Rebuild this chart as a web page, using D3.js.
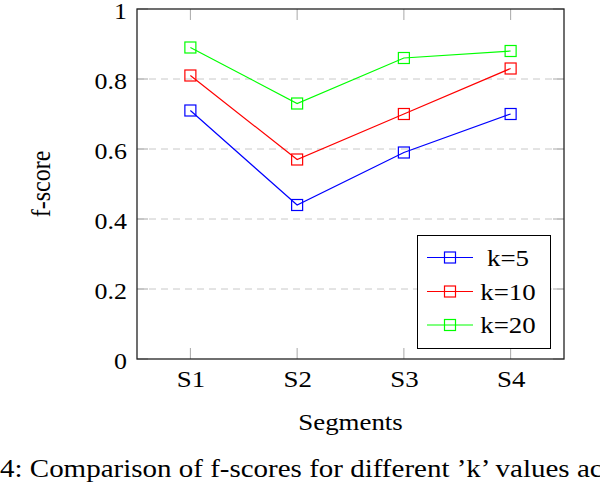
<!DOCTYPE html>
<html>
<head>
<meta charset="utf-8">
<script src="https://cdn.jsdelivr.net/npm/d3@7"></script>
</head>
<body style="margin:0;background:#fff">
<svg id="chart" width="600" height="490" style="display:block"></svg>
<script>
const categories = ["S1", "S2", "S3", "S4"];
const seriesNames = ["k=5", "k=10", "k=20"];
const seriesColors = ["#0000ff", "#ff0000", "#00ff00"];
const k5 = [0.71, 0.44, 0.59, 0.70];
const k10 = [0.81, 0.57, 0.70, 0.83];
const k20 = [0.89, 0.73, 0.86, 0.88];
const yTicks = [0, 0.2, 0.4, 0.6, 0.8, 1];
const yTickLabels = ["0", "0.2", "0.4", "0.6", "0.8", "1"];
const xLabel = "Segments";
const yLabel = "f-score";
const caption = "4: Comparison of f-scores for different \u2019k\u2019 values across";

const seriesValues = [k5, k10, k20];
const FONT = "Liberation Serif";
const SX = 1.12;

const svg = d3.select("#chart");
const L = 137, R = 564, T = 9, B = 359;
const fs = 24;

const x = d3.scalePoint().domain(categories).range([L, R]).padding(0.5);
const y = d3.scaleLinear().domain([0, 1]).range([B, T]);

function styleText(sel, size) {
  sel.attr("font-family", FONT).style("font-family", FONT)
     .attr("font-size", size || fs).attr("fill", "#000");
  return sel;
}

// grid
svg.append("g").selectAll("line")
  .data(yTicks.filter(d => d > 0 && d < 1))
  .join("line")
  .attr("x1", L).attr("x2", R)
  .attr("y1", d => y(d)).attr("y2", d => y(d))
  .attr("stroke", "#c8c8c8").attr("stroke-width", 1)
  .attr("stroke-dasharray", "7,5");

// inner ticks (left/right/bottom/top)
const tickColor = "#a8a8a8", tl = 11;
const ticksG = svg.append("g").attr("stroke", tickColor).attr("stroke-width", 1);
yTicks.forEach(v => {
  ticksG.append("line").attr("x1", L).attr("x2", L + tl).attr("y1", y(v)).attr("y2", y(v));
  ticksG.append("line").attr("x1", R).attr("x2", R - tl).attr("y1", y(v)).attr("y2", y(v));
});
categories.forEach(c => {
  ticksG.append("line").attr("x1", x(c)).attr("x2", x(c)).attr("y1", B).attr("y2", B - tl);
  ticksG.append("line").attr("x1", x(c)).attr("x2", x(c)).attr("y1", T).attr("y2", T + tl);
});

// y axis labels
const yAxis = d3.axisLeft(y).tickValues(yTicks).tickFormat((d, i) => yTickLabels[i]).tickSize(0).tickPadding(10);
const gy = svg.append("g").attr("transform", `translate(${L},0)`).call(yAxis)
  .attr("font-family", FONT).attr("font-size", fs);
gy.select(".domain").remove();
styleText(gy.selectAll("text")).attr("x", 0).attr("dy", "0.34em")
  .attr("text-anchor", "end").attr("transform", `translate(-10,1) scale(1.08,1)`);

// x axis labels
const xAxis = d3.axisBottom(x).tickSize(0).tickPadding(10);
const gx = svg.append("g").attr("transform", `translate(0,${B})`).call(xAxis)
  .attr("font-family", FONT).attr("font-size", fs);
gx.select(".domain").remove();
styleText(gx.selectAll("text")).attr("y", 0).attr("dy", "0")
  .attr("text-anchor", "middle").attr("transform", `translate(0,28) scale(${SX},1)`);

// frame
svg.append("rect").attr("x", L).attr("y", T).attr("width", R - L).attr("height", B - T)
  .attr("fill", "none").attr("stroke", "#222").attr("stroke-width", 1.3);

// series
const line = d3.line().x((d, i) => x(categories[i])).y(d => y(d));
const ms = 11;
seriesValues.forEach((vals, si) => {
  const g = svg.append("g");
  g.append("path").datum(vals).attr("d", line)
    .attr("fill", "none").attr("stroke", seriesColors[si]).attr("stroke-width", 1.2);
  g.selectAll("rect").data(vals).join("rect")
    .attr("x", (d, i) => x(categories[i]) - ms / 2)
    .attr("y", d => y(d) - ms / 2)
    .attr("width", ms).attr("height", ms)
    .attr("fill", "none").attr("stroke", seriesColors[si]).attr("stroke-width", 1.2);
});

// legend
const lg = svg.append("g");
lg.append("rect").attr("x", 417.5).attr("y", 235.5).attr("width", 133).attr("height", 113)
  .attr("fill", "#fff").attr("stroke", "#000").attr("stroke-width", 1);
const legY = [257.5, 291.5, 325];
seriesNames.forEach((n, i) => {
  lg.append("line").attr("x1", 427).attr("x2", 473).attr("y1", legY[i]).attr("y2", legY[i])
    .attr("stroke", seriesColors[i]).attr("stroke-width", 1.2);
  lg.append("rect").attr("x", 450 - ms / 2).attr("y", legY[i] - ms / 2).attr("width", ms).attr("height", ms)
    .attr("fill", "none").attr("stroke", seriesColors[i]).attr("stroke-width", 1.2);
  styleText(lg.append("text")).attr("x", 0).attr("y", 0).attr("dy", "0.35em")
    .attr("text-anchor", "middle")
    .attr("transform", `translate(508,${legY[i]}) scale(${SX},1)`).text(n);
});

// axis titles
styleText(svg.append("text")).attr("x", 0).attr("y", 0).attr("text-anchor", "middle")
  .attr("transform", `translate(350.5,430) scale(${SX},1)`).text(xLabel);
styleText(svg.append("text")).attr("x", 0).attr("y", 0).attr("text-anchor", "middle")
  .attr("transform", `translate(50,184) rotate(-90) scale(1,${SX})`).text(yLabel);

// caption (cut off at both edges, as in the reference)
styleText(svg.append("text"), 25).attr("x", 0).attr("y", 0).attr("text-anchor", "start")
  .attr("transform", `translate(0,477) scale(1.16,1)`).text(caption);
</script>
</body>
</html>
